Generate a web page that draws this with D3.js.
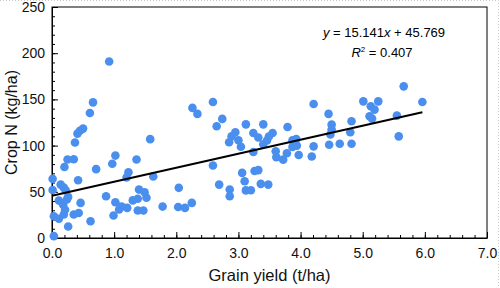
<!DOCTYPE html>
<html>
<head>
<meta charset="utf-8">
<script src="https://cdn.jsdelivr.net/npm/d3@7"></script>
<style>
  body { margin: 0; background: #fff; }
  svg { display: block; font-family: "Liberation Sans", Arial, sans-serif; }
</style>
</head>
<body>
<svg id="drawing_region"></svg>
<script>
// grain yield (t/ha)
const yield_values = [
    0.03, 0.01, 0.01, 0.03, 0.11, 0.11, 0.14, 0.19, 0.22, 0.18,
    0.24, 0.26, 0.21, 0.19, 0.26, 0.35, 0.43, 0.46, 0.42, 0.20,
    0.25, 0.35, 0.37, 0.41, 0.45, 0.50, 0.61, 0.66, 0.92, 0.62,
    0.71, 0.87, 0.99, 1.02, 0.97, 1.02, 1.08, 1.12, 1.21, 1.20,
    1.23, 1.36, 1.30, 1.38, 1.40, 1.49, 1.52, 1.38, 1.47, 1.63,
    1.58, 1.78, 2.03, 2.14, 2.25, 2.04, 2.59, 2.69, 2.86, 2.86,
    3.06, 3.10, 3.12, 3.20, 3.26, 3.32, 3.36, 3.48, 2.26, 2.34,
    2.59, 2.74, 2.65, 2.95, 2.89, 2.85, 3.00, 3.04, 3.12, 3.24,
    3.32, 3.40, 3.55, 3.49, 3.46, 3.40, 3.24, 3.79, 3.87, 3.93,
    3.60, 3.61, 3.72, 3.78, 3.87, 3.94, 3.97, 4.18, 4.21, 4.21,
    4.45, 4.50, 4.50, 4.48, 4.46, 4.63, 4.82, 4.80, 4.82, 5.01,
    5.25, 5.13, 5.19, 5.11, 5.15, 5.66, 5.96, 5.55, 5.58
];

// crop N (kg/ha)
const cropn_values = [
    2, 64, 52, 23.5, 20.8, 40.5, 57.8, 54.5, 51.5, 36,
    41.6, 44.5, 30.5, 25.4, 12.5, 25.4, 27, 38, 62.5, 76.8,
    85, 85.3, 103.3, 113, 116, 118.4, 135.3, 146.8, 191, 18.2,
    74.5, 45.2, 24.3, 38.7, 80.4, 89.2, 30.8, 34, 32.6, 65.5,
    71.2, 84.9, 40.7, 42.4, 52.4, 49.5, 43.5, 29.7, 29.7, 66.5,
    107, 34, 33.5, 32.6, 38, 54.3, 78.4, 57.8, 52.4, 45.2,
    70.5, 61.4, 51.5, 51.7, 72.5, 73.5, 58.6, 57.8, 140.8, 134.3,
    147.2, 128.9, 120.9, 114.4, 110, 103.6, 105.7, 98.8, 123, 113.7,
    108.8, 123, 113.7, 109.8, 105.5, 101.5, 93, 120.2, 105.7, 107.2,
    93.8, 87.5, 84.8, 91.8, 98.6, 100, 89.8, 88.2, 99.2, 145.1,
    134.3, 122.7, 117.5, 112, 101, 102, 102, 114.4, 126.3, 147.9,
    147.9, 142.5, 138.9, 131.7, 129.2, 164.1, 147.2, 132.4, 110
];

// linear fit y = 15.141x + 45.769
const fit_slope = 15.141;
const fit_intercept = 45.769;
const fit_range = [ 0, 5.96 ];

const x_ticks = [ 0, 1, 2, 3, 4, 5, 6, 7 ];
const y_ticks = [ 0, 50, 100, 150, 200, 250 ];

const points = yield_values.map( ( v, i ) => ({ x: v, y: cropn_values[i] }) );

const width = 500, height = 288;
const margin = { top: 7, right: 13, bottom: 50, left: 52 };
const inner_width = width - margin.left - margin.right;
const inner_height = height - margin.top - margin.bottom;

const svg = d3.select( '#drawing_region' )
    .attr( 'width', width )
    .attr( 'height', height );

// faint dotted edge of the original figure
svg.append( 'path' )
    .attr( 'd', `M0,0.5H${width - 1.5}V${height}` )
    .attr( 'fill', 'none' )
    .attr( 'stroke', '#c8c8c8' )
    .attr( 'stroke-dasharray', '1,2' );

const chart = svg.append( 'g' )
    .attr( 'transform', `translate(${margin.left}, ${margin.top})` );

const xscale = d3.scaleLinear()
    .domain( [ 0, 7 ] )
    .range( [ 0, inner_width ] );

const yscale = d3.scaleLinear()
    .domain( [ 0, 250 ] )
    .range( [ inner_height, 0 ] );

// minor ticks
chart.append( 'g' )
    .attr( 'transform', `translate(0, ${inner_height})` )
    .call( d3.axisBottom( xscale ).tickValues( d3.range( 0, 7.01, 0.2 ) ).tickSize( -3 ).tickFormat( '' ) )
    .call( g => g.select( '.domain' ).remove() );

chart.append( 'g' )
    .call( d3.axisLeft( yscale ).tickValues( d3.range( 0, 251, 10 ) ).tickSize( -3 ).tickFormat( '' ) )
    .call( g => g.select( '.domain' ).remove() );

// major ticks
const xaxis_group = chart.append( 'g' )
    .attr( 'transform', `translate(0, ${inner_height})` )
    .call( d3.axisBottom( xscale ).tickValues( x_ticks ).tickSize( -6 ).tickSizeOuter( 0 ).tickPadding( 10 )
        .tickFormat( d3.format( '.1f' ) ) );

const yaxis_group = chart.append( 'g' )
    .call( d3.axisLeft( yscale ).tickValues( y_ticks ).tickSize( -6 ).tickSizeOuter( 0 ).tickPadding( 7 ) );

xaxis_group.selectAll( 'text' ).attr( 'font-size', 14 ).attr( 'fill', '#111' );
yaxis_group.selectAll( 'text' ).attr( 'font-size', 14 ).attr( 'fill', '#111' );

// frame
chart.append( 'rect' )
    .attr( 'width', inner_width )
    .attr( 'height', inner_height )
    .attr( 'fill', 'none' )
    .attr( 'stroke', '#000' )
    .attr( 'stroke-width', 1 );

// points
chart.append( 'g' )
    .selectAll( 'circle' )
    .data( points )
    .enter()
    .append( 'circle' )
    .attr( 'cx', d => xscale( d.x ) )
    .attr( 'cy', d => yscale( d.y ) )
    .attr( 'r', 4.3 )
    .attr( 'fill', '#4a8fee' );

// trend line
chart.append( 'line' )
    .attr( 'x1', xscale( fit_range[0] ) )
    .attr( 'y1', yscale( fit_slope * fit_range[0] + fit_intercept ) )
    .attr( 'x2', xscale( fit_range[1] ) )
    .attr( 'y2', yscale( fit_slope * fit_range[1] + fit_intercept ) )
    .attr( 'stroke', '#000' )
    .attr( 'stroke-width', 2 );

// equation
const eq = chart.append( 'text' )
    .attr( 'x', 332 )
    .attr( 'y', 30 )
    .attr( 'text-anchor', 'middle' )
    .attr( 'font-size', 13 );
eq.append( 'tspan' ).attr( 'font-style', 'italic' ).text( 'y' );
eq.append( 'tspan' ).text( ' = 15.141' );
eq.append( 'tspan' ).attr( 'font-style', 'italic' ).text( 'x' );
eq.append( 'tspan' ).text( ' + 45.769' );

const r2 = chart.append( 'text' )
    .attr( 'x', 330 )
    .attr( 'y', 50 )
    .attr( 'text-anchor', 'middle' )
    .attr( 'font-size', 13 );
r2.append( 'tspan' ).attr( 'font-style', 'italic' ).text( 'R' );
r2.append( 'tspan' ).attr( 'font-size', 8 ).attr( 'dy', -5 ).text( '2' );
r2.append( 'tspan' ).attr( 'dy', 5 ).text( ' = 0.407' );

// axis titles
svg.append( 'text' )
    .attr( 'x', margin.left + inner_width / 2 )
    .attr( 'y', 281 )
    .attr( 'text-anchor', 'middle' )
    .attr( 'font-size', 16.5 )
    .attr( 'fill', '#111' )
    .text( 'Grain yield (t/ha)' );

svg.append( 'text' )
    .attr( 'transform', `translate(17, ${margin.top + inner_height / 2}) rotate(-90)` )
    .attr( 'text-anchor', 'middle' )
    .attr( 'font-size', 16 )
    .attr( 'fill', '#111' )
    .text( 'Crop N (kg/ha)' );
</script>
</body>
</html>
